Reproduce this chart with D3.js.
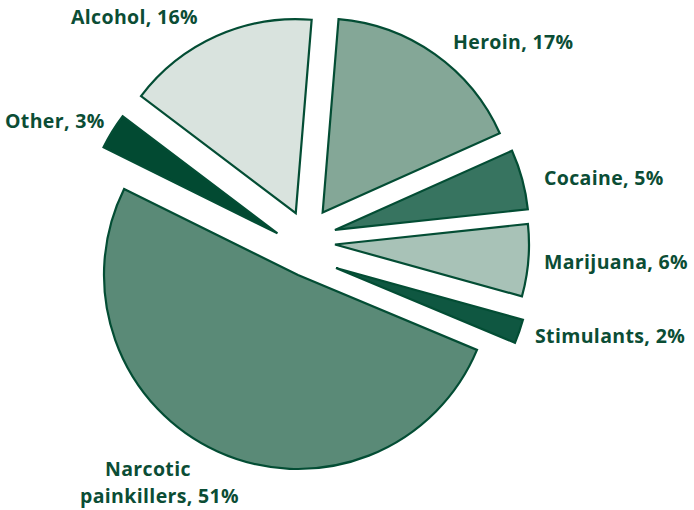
<!DOCTYPE html>
<html>
<head>
<meta charset="utf-8">
<script src="https://cdn.jsdelivr.net/npm/d3@7"></script>
<style>
  html, body { margin: 0; padding: 0; background: #ffffff; }
  svg { display: block; }
  .label { font-family: "Open Sans", "DejaVu Sans", sans-serif; font-weight: 700; fill: #0b4d35; letter-spacing: 0.35px; }
</style>
</head>
<body>
<svg id="chart" width="694" height="510"></svg>
<script>
// Share of substances, clockwise from the top
const categories = ["Heroin", "Cocaine", "Marijuana", "Stimulants", "Narcotic painkillers", "Other", "Alcohol"];
const shares = [17, 5, 6, 2, 51, 3, 16];
const labelLines = [
  ["Heroin, 17%"],
  ["Cocaine, 5%"],
  ["Marijuana, 6%"],
  ["Stimulants, 2%"],
  ["Narcotic", "painkillers, 51%"],
  ["Other, 3%"],
  ["Alcohol, 16%"]
];

// Slice styling and layout
const fills = ["#84a797", "#377460", "#a8c2b7", "#0f5741", "#5a8a77", "#024a32", "#d9e3de"];
// explode offsets per slice: [outward push, sideways push along the rim direction]
const explode = [[28.8, 0], [29.5, 1.7], [29.6, 6.1], [38.8, 20.4], [38.8, -8.9], [25.7, -12.7], [25.1, 0]];
// label anchor points (left edge, baseline) for each line
const labelPos = [
  [[453, 49]],
  [[544, 185]],
  [[544, 269]],
  [[535, 343]],
  [[105, 476], [80, 503]],
  [[5, 128]],
  [[71, 24]]
];

const cx = 306, cy = 236, radius = 194;
const startOffset = 4.7 * Math.PI / 180;

const svg = d3.select("#chart");

const pie = d3.pie()
  .sort(null)
  .value(d => d.value)
  .startAngle(startOffset)
  .endAngle(startOffset + 2 * Math.PI);

const arc = d3.arc().innerRadius(0).outerRadius(radius);

const data = categories.map((c, i) => ({ name: c, value: shares[i], i }));
const arcs = pie(data);

svg.append("g")
  .selectAll("path")
  .data(arcs)
  .join("path")
  .attr("d", arc)
  .attr("fill", d => fills[d.data.i])
  .attr("stroke", "#034d34")
  .attr("stroke-width", 2.2)
  .attr("stroke-linejoin", "miter")
  .attr("transform", d => {
    const a = (d.startAngle + d.endAngle) / 2;
    const [r, t] = explode[d.data.i];
    const dx = r * Math.sin(a) + t * Math.cos(a);
    const dy = -r * Math.cos(a) + t * Math.sin(a);
    return `translate(${cx + dx},${cy + dy})`;
  });

// one text element per slice; extra lines go in tspans
const labels = svg.append("g");
labelLines.forEach((lines, i) => {
  const t = labels.append("text")
    .attr("class", "label")
    .attr("font-size", 19.5);
  lines.forEach((line, j) => {
    t.append("tspan")
      .attr("x", labelPos[i][j][0])
      .attr("y", labelPos[i][j][1])
      .text(line);
  });
});
</script>
</body>
</html>
